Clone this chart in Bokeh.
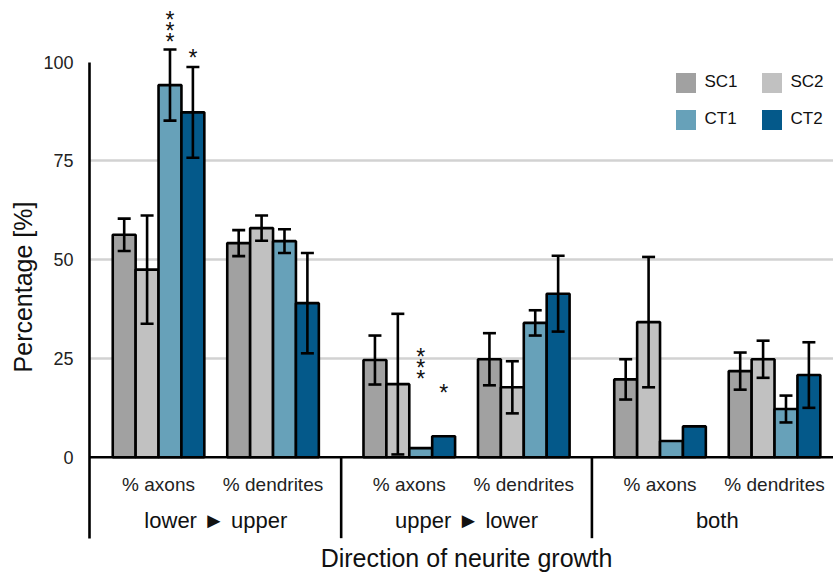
from bokeh.plotting import figure
from bokeh.models import (FactorRange, Range1d, FixedTicker, ColumnDataSource, Whisker, TeeHead,
                          Span, Legend, LegendItem)
from bokeh.transform import dodge
from bokeh.core.properties import value
from bokeh.embed import file_html
from bokeh.resources import INLINE

# ---------------- data ----------------
groups = ["lower ► upper", "upper ► lower", "both"]
subs = ["% axons", "% dendrites"]
series = ["SC1", "SC2", "CT1", "CT2"]

SC1 = [56.3, 54.2, 24.6, 24.8, 19.7, 21.8]
SC1_err = [4.1, 3.3, 6.2, 6.6, 5.1, 4.7]
SC2 = [47.5, 58.0, 18.5, 17.7, 34.2, 24.8]
SC2_err = [13.7, 3.2, 17.8, 6.6, 16.5, 4.7]
CT1 = [94.2, 54.7, 2.3, 34.0, 4.1, 12.2]
CT1_err = [9.0, 3.0, 0.0, 3.2, 0.0, 3.4]
CT2 = [87.3, 39.0, 5.3, 41.4, 7.8, 20.8]
CT2_err = [11.5, 12.7, 0.0, 9.6, 0.0, 8.3]

y_ticks = [0, 25, 50, 75, 100]
grid_ticks = [25, 50, 75]

# significance marks
star_group = ["lower ► upper", "lower ► upper", "upper ► lower", "upper ► lower"]
star_series = ["CT1", "CT2", "CT1", "CT2"]
star_text = ["*\n*\n*", "*", "*\n*\n*", "*"]
star_y = [107.9, 101.0, 22.6, 16.3]

x_title = "Direction of neurite growth"
y_title = "Percentage [%]"

# ---------------- styling ----------------
colors = {"SC1": "#a1a1a1", "SC2": "#c1c1c1", "CT1": "#67a1b9", "CT2": "#04598a"}
offsets = {"SC1": -0.3, "SC2": -0.1, "CT1": 0.1, "CT2": 0.3}
FONT = "Liberation Sans"
LW = 2.6
GP = 0.19
SHIFT = 0.044
AXIS_FLOOR = -20.5
SUB_Y = -7.0
GROUP_Y = -16.1
TITLE_Y = -25.6

factors = [(g, s) for g in groups for s in subs]
xr = FactorRange(*factors, group_padding=GP, range_padding=0.059, range_padding_units="absolute")

p = figure(width=833, height=573, x_range=xr, y_range=Range1d(-29.44, 115.62),
           output_backend="svg", toolbar_location=None, x_axis_location=None,
           min_border_left=89, min_border_right=0, min_border_top=0, min_border_bottom=0)
p.outline_line_color = None
p.background_fill_color = "white"
p.xgrid.visible = False
p.ygrid.ticker = FixedTicker(ticks=grid_ticks)
p.ygrid.grid_line_color = "#d2d2d2"
p.ygrid.grid_line_width = 2.6

ya = p.yaxis[0]
ya.ticker = FixedTicker(ticks=y_ticks)
ya.bounds = (AXIS_FLOOR, 100)
ya.axis_line_width = LW
ya.axis_line_color = "black"
ya.major_tick_line_color = None
ya.minor_tick_line_color = None
ya.major_label_standoff = 10
ya.major_label_text_font = FONT
ya.major_label_text_font_size = "18px"
ya.major_label_text_color = "#222222"
ya.axis_label = y_title
ya.axis_label_text_font = FONT
ya.axis_label_text_font_size = "25px"
ya.axis_label_text_font_style = "normal"
ya.axis_label_text_color = "#111111"
ya.axis_label_standoff = 3

data = {"SC1": (SC1, SC1_err), "SC2": (SC2, SC2_err), "CT1": (CT1, CT1_err), "CT2": (CT2, CT2_err)}

for name in series:
    vals, errs = data[name]
    src = ColumnDataSource(dict(x=factors, top=vals))
    p.vbar(x=dodge("x", offsets[name] + SHIFT, range=xr), top="top", bottom=0, width=0.2, source=src,
           fill_color=colors[name], line_color="black", line_width=LW)

for name in series:
    vals, errs = data[name]
    keep = [i for i, e in enumerate(errs) if e > 0]
    esrc = ColumnDataSource(dict(x=[factors[i] for i in keep],
                                 upper=[vals[i] + errs[i] for i in keep],
                                 lower=[vals[i] - errs[i] for i in keep]))
    w = Whisker(source=esrc, base=dodge("x", offsets[name] + SHIFT, range=xr), upper="upper", lower="lower",
                line_color="black", line_width=LW, level="annotation",
                upper_head=TeeHead(size=13, line_width=LW, line_color="black"),
                lower_head=TeeHead(size=13, line_width=LW, line_color="black"))
    p.add_layout(w)

# baseline (x axis line)
p.add_layout(Span(location=0, dimension="width", line_color="black", line_width=LW, level="annotation"))

# group separators
sep_src = ColumnDataSource(dict(x=[(g, subs[-1]) for g in groups[:-1]]))
p.segment(x0=dodge("x", 0.5 + GP / 2 + SHIFT, range=xr), x1=dodge("x", 0.5 + GP / 2 + SHIFT, range=xr),
          y0=0, y1=AXIS_FLOOR, source=sep_src, line_color="black", line_width=LW)

# category labels
sub_src = ColumnDataSource(dict(x=factors, y=[SUB_Y] * len(factors), text=[f[1] for f in factors]))
p.text(x=dodge("x", SHIFT, range=xr), y="y", text="text", source=sub_src,
       text_font=value(FONT), text_font_size="19px", text_align="center", text_baseline="middle",
       text_color="#222222")
grp_src = ColumnDataSource(dict(x=groups, y=[GROUP_Y] * len(groups), text=groups))
p.text(x=dodge("x", SHIFT, range=xr), y="y", text="text", source=grp_src,
       text_font=value(FONT), text_font_size="22px", text_align="center", text_baseline="middle",
       text_color="#111111")
ttl_src = ColumnDataSource(dict(x=[groups[1]], y=[TITLE_Y], text=[x_title]))
p.text(x=dodge("x", SHIFT, range=xr), y="y", text="text", source=ttl_src,
       text_font=value(FONT), text_font_size="25px", text_align="center", text_baseline="middle",
       text_color="#111111")

# significance stars
for s in ["CT1", "CT2"]:
    idx = [i for i, n in enumerate(star_series) if n == s]
    ss = ColumnDataSource(dict(x=[(star_group[i], subs[0]) for i in idx], y=[star_y[i] for i in idx],
                               text=[star_text[i] for i in idx]))
    p.text(x=dodge("x", offsets[s] + SHIFT, range=xr), y="y", text="text", source=ss,
           text_font=value(FONT), text_font_size="23px", text_align="center", text_baseline="middle",
           text_line_height=0.42, text_color="#111111")

# legend (zero-height proxies, no outline)
items = []
for name in series:
    r = p.vbar(x=[factors[0]], top=[0], bottom=[0], width=0.2, fill_color=colors[name], line_color=None)
    items.append(LegendItem(label=name, renderers=[r]))
legend = Legend(items=items, orientation="horizontal", ncols=2, location=(583.5, 441.5),
                glyph_width=25, glyph_height=25, label_standoff=7, spacing=12, label_width=42,
                padding=0, margin=0, border_line_color=None, background_fill_alpha=0,
                label_text_font=FONT, label_text_font_size="17px", label_text_color="#111111")
p.add_layout(legend)

open("out.html", "w").write(file_html(p, INLINE))
